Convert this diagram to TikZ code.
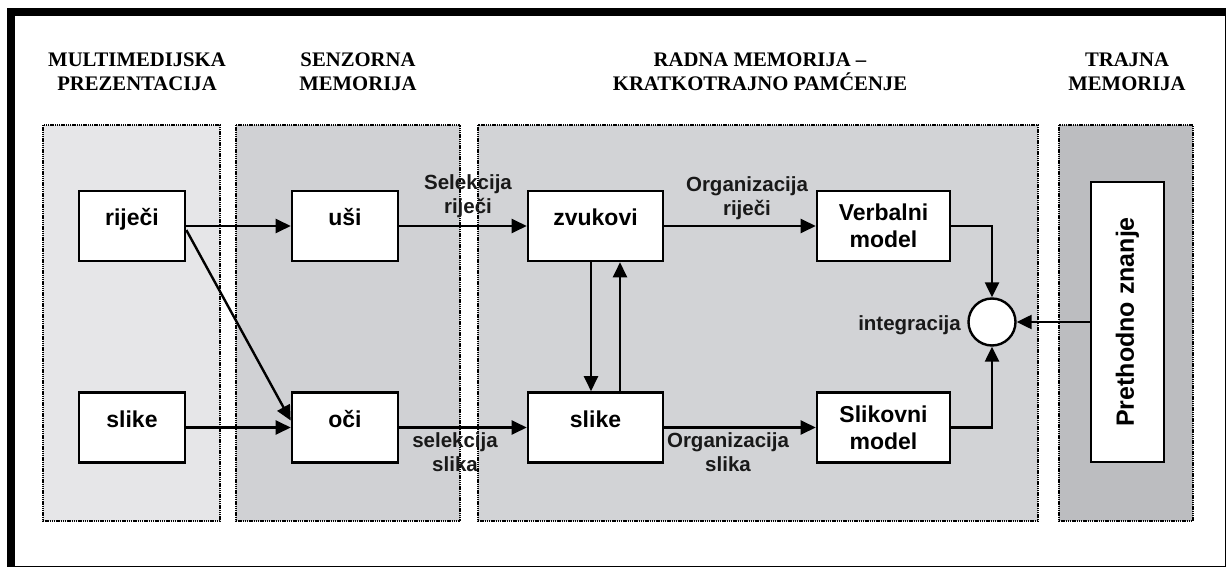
\documentclass[tikz,border=0pt]{standalone}
\usepackage{fontspec}
\setmainfont{Liberation Serif}
\setsansfont{Liberation Sans}
\usetikzlibrary{arrows.meta,shapes.geometric}
\definecolor{pone}{HTML}{E6E6E8}
\definecolor{ptwo}{HTML}{D0D1D4}
\definecolor{pthree}{HTML}{D2D3D6}
\definecolor{pfour}{HTML}{BCBDC0}
\tikzset{
  panel/.style={draw=black, line width=1.5pt, dash pattern=on 1.4pt off 0.8pt},
  box/.style={draw=black, line width=2.6pt, fill=white, inner sep=0pt, minimum height=70pt,
    font=\sffamily\bfseries\fontsize{23}{27}\selectfont, align=center},
  onebox/.style={box, text height=9pt, text depth=9pt},
  arr/.style={line width=2.4pt, -{Triangle[length=15pt,width=14pt]}},
  lbl/.style={font=\sffamily\bfseries\fontsize{20.5}{24}\selectfont, align=center, inner sep=0pt, text=black!90},
  head/.style={font=\bfseries\fontsize{20.7}{23.5}\selectfont, align=center, inner sep=0pt}
}
\begin{document}
\begin{tikzpicture}[x=1pt,y=-1pt]
\useasboundingbox (0,0) rectangle (1229,569);
\fill[white] (0,0) rectangle (1229,569);
% frame
\fill[black] (7,8) rectangle (1226,16);
\fill[black] (7,8) rectangle (15,567);
\draw[line width=1.5pt] (15,566.5) -- (1225.5,566.5) -- (1225.5,16);
% panels
\fill[pone] (43,125) rectangle (220,521);
\draw[panel] (43,125) rectangle (220,521);
\fill[ptwo] (236,125) rectangle (460,521);
\draw[panel] (236,125) rectangle (460,521);
\fill[pthree] (478,125) rectangle (1038,521);
\draw[panel] (478,125) rectangle (1038,521);
\fill[pfour] (1059,125) rectangle (1193,521);
\draw[panel] (1059,125) rectangle (1193,521);
% headings
\node[head] (h1) at (137,72) {MULTIMEDIJSKA\\PREZENTACIJA};
\node[head] (h2) at (358,72) {SENZORNA\\MEMORIJA};
\node[head] (h3) at (760,72) {RADNA MEMORIJA –\\KRATKOTRAJNO PAMĆENJE};
\node[head] (h4) at (1127,72) {TRAJNA\\MEMORIJA};
% boxes
\node[onebox, minimum width=106pt] (rij) at (132,226) {riječi};
\node[onebox, minimum width=106pt] (slL) at (132,427.5) {slike};
\node[onebox, minimum width=106pt] (usi) at (345,226) {uši};
\node[onebox, minimum width=106pt] (oci) at (345,427.5) {oči};
\node[onebox, minimum width=135pt] (zv) at (595.5,226) {zvukovi};
\node[onebox, minimum width=135pt] (slM) at (595.5,427.5) {slike};
\node[box, minimum width=133pt] (verb) at (883.5,226) {Verbalni\\model};
\node[box, minimum width=133pt] (slik) at (883.5,427.5) {Slikovni\\model};
\node[circle, draw=black, line width=2.4pt, fill=white, minimum size=47pt, inner sep=0pt] (circ) at (992,322) {};
\node[box, rotate=90, minimum width=280pt, minimum height=73pt, font=\sffamily\bfseries\fontsize{25}{30}\selectfont] (pre) at (1127.5,322) {Prethodno znanje};
% labels
\node[lbl] (lsr) at (468,196) {Selekcija\\riječi};
\node[lbl] (lor) at (747,198) {Organizacija\\riječi};
\node[lbl] (lss) at (455,452) {selekcija\\slika};
\node[lbl] (los) at (728,452) {Organizacija\\slika};
\node[lbl, anchor=east] (lint) at (961,325) {integracija};
% connectors
\coordinate (dnx) at (591,0);
\coordinate (upx) at (620,0);
\draw[arr] (rij.east) -- (usi.west);
\draw[arr] ([yshift=-4pt]rij.east) -- ([yshift=7pt]oci.west);
\draw[arr] (slL.east) -- (oci.west);
\draw[arr] (usi.east) -- (zv.west);
\draw[arr] (oci.east) -- (slM.west);
\draw[arr] (zv.south -| dnx) -- (slM.north -| dnx);
\draw[arr] (slM.north -| upx) -- (zv.south -| upx);
\draw[arr] (zv.east) -- (verb.west);
\draw[arr] (slM.east) -- (slik.west);
\draw[arr] (verb.east) -| (circ.north);
\draw[arr] (slik.east) -| (circ.south);
\draw[arr] (pre.north) -- (circ.east);
\end{tikzpicture}
\end{document}
